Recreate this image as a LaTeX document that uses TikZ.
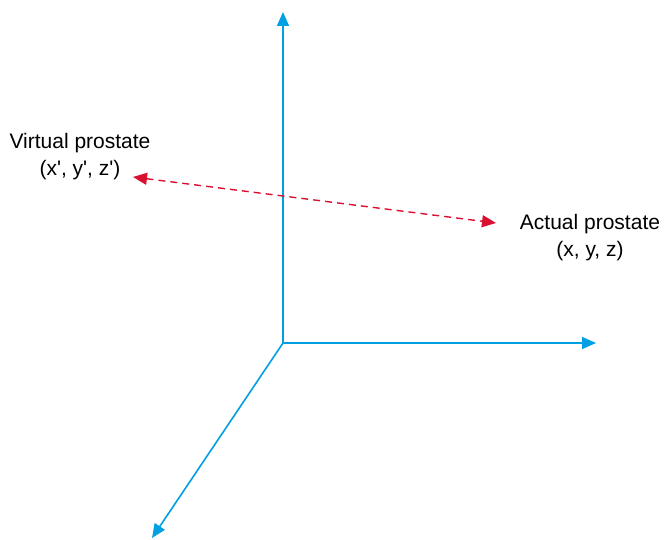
\documentclass[tikz,border=0pt]{standalone}
\usepackage{fontspec}
\setmainfont{Liberation Sans}
\usetikzlibrary{arrows.meta}
\definecolor{axisblue}{RGB}{0,160,227}
\definecolor{linkred}{RGB}{218,16,48}
\begin{document}
\begin{tikzpicture}[x=1pt,y=-1pt,
  axis/.style={draw=axisblue,line width=1.6pt,-{Triangle[length=14pt,width=12pt]}},
  link/.style={draw=linkred,line width=1.4pt,dash pattern=on 7pt off 5pt,{Triangle[length=14pt,width=12pt]}-{Triangle[length=14pt,width=12pt]}},
  lbl/.style={font=\fontsize{21}{27}\selectfont,align=center,inner sep=0pt}]
\useasboundingbox (0,0) rectangle (664,540);
\coordinate (o) at (283,343);
\coordinate (up) at (283,12);
\coordinate (rt) at (596,343);
\coordinate (dl) at (152,538);
\coordinate (v) at (133,177);
\coordinate (a) at (496,223);
\draw[axis] (o) -- (up);
\draw[axis] (o) -- (rt);
\draw[axis] (o) -- (dl);
\draw[link] (v) -- (a);
\node[lbl] (vp) at (80,157) {Virtual prostate\\(x\textquotesingle, y\textquotesingle, z\textquotesingle)};
\node[lbl] (ap) at (590,238) {Actual prostate\\(x, y, z)};
\end{tikzpicture}
\end{document}
